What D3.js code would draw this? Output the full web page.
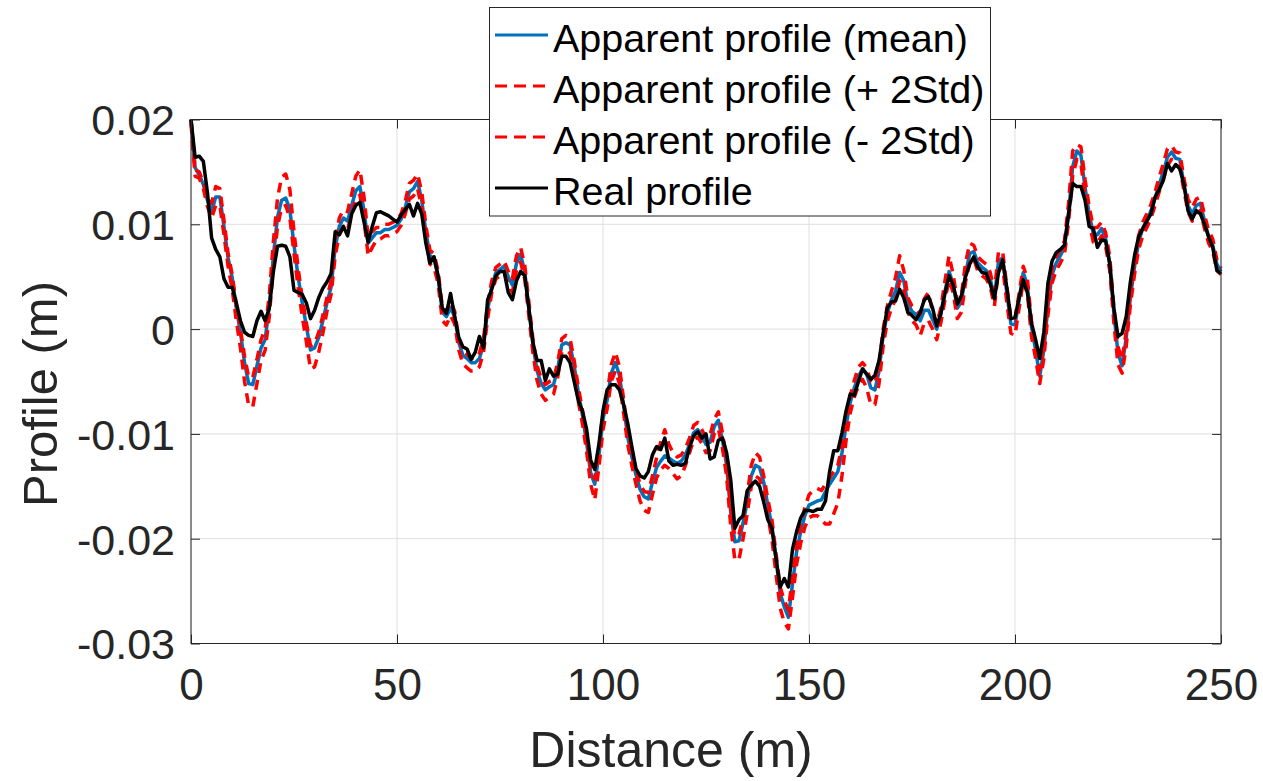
<!DOCTYPE html>
<html>
<head>
<meta charset="utf-8">
<script src="https://cdn.jsdelivr.net/npm/d3@7"></script>
<style>
html,body{margin:0;padding:0;background:#fff;}
svg{display:block;}
</style>
</head>
<body>
<svg id="chart" width="1263" height="781"></svg>
<script>
// Distance samples (m)
const distance = d3.range(0, 251, 1);

// Profiles in millimetres (converted to metres when drawn)
const realProfile = [
 20.0,16.4,16.5,16.0,13.0,8.7,7.6,6.9,4.8,4.0,
 4.0,2.5,0.8,-0.3,-0.6,-0.7,0.8,1.7,0.8,2.0,
 5.5,7.9,8.0,7.9,6.9,3.7,3.5,3.3,2.5,1.0,
 1.8,3.0,3.9,4.5,5.3,9.3,9.0,9.8,8.9,11.0,
 11.8,12.1,10.2,8.3,9.8,11.1,11.2,11.0,10.8,10.5,
 10.2,10.9,11.4,11.9,10.8,12.0,11.0,8.2,6.3,6.9,
 5.0,2.0,1.5,3.4,1.2,-0.8,-1.7,-1.9,-2.9,-2.2,
 -0.7,-1.8,2.8,3.8,5.1,5.5,5.5,3.5,2.8,4.6,
 5.5,5.1,2.0,-1.3,-3.0,-3.0,-4.9,-3.8,-4.5,-4.3,
 -2.6,-2.6,-3.2,-5.0,-6.8,-7.8,-9.5,-12.5,-13.4,-11.0,
 -7.8,-5.8,-5.3,-5.3,-5.8,-7.2,-9.0,-11.2,-13.3,-14.0,
 -14.2,-13.6,-12.0,-11.2,-11.5,-10.4,-12.6,-13.0,-12.9,-13.0,
 -12.8,-11.3,-10.2,-9.8,-10.4,-10.0,-12.4,-12.2,-10.6,-10.4,
 -11.8,-14.4,-19.0,-18.2,-17.8,-15.4,-14.9,-14.5,-15.0,-16.5,
 -18.2,-19.0,-21.9,-24.6,-23.8,-24.6,-21.0,-19.3,-18.0,-17.3,
 -17.3,-17.4,-17.2,-17.2,-16.4,-13.6,-11.6,-11.6,-9.9,-7.8,
 -6.2,-6.3,-5.0,-3.8,-4.3,-4.8,-4.4,-3.0,-0.4,2.0,
 2.6,2.7,3.8,3.0,1.6,1.3,0.9,1.6,2.8,3.1,
 2.0,0.3,1.5,3.4,5.1,4.2,2.4,3.2,5.0,6.2,
 6.9,5.9,5.4,5.3,4.3,2.9,5.4,6.6,4.0,1.0,
 1.1,3.0,4.7,3.5,0.6,-1.0,-2.8,-0.3,4.4,6.5,
 7.3,7.6,8.0,11.0,13.9,13.6,13.6,12.3,9.8,9.6,
 7.8,8.5,8.4,6.2,2.0,-0.7,-0.4,1.2,4.5,7.0,
 8.8,9.6,10.3,11.0,12.6,13.3,14.2,15.8,15.1,15.7,
 15.3,13.8,11.3,10.5,11.3,11.0,10.0,8.8,7.8,5.6,
 5.3
];

const meanProfile = [
 20.0,15.4,14.7,13.8,12.3,11.2,12.6,12.6,9.8,6.8,
 4.9,2.0,-0.3,-3.2,-5.2,-5.3,-3.5,-1.8,-1.0,2.2,
 7.0,10.7,12.3,12.5,11.4,8.0,5.0,2.5,0.3,-2.0,
 -1.8,-0.8,0.8,2.5,4.0,7.8,9.8,10.6,10.3,11.8,
 13.2,13.6,11.3,8.2,8.7,9.2,9.2,9.5,9.5,9.7,
 9.9,10.5,11.6,13.1,13.4,14.1,12.3,9.3,7.0,6.7,
 5.0,1.6,1.2,2.0,1.2,-1.3,-2.5,-2.8,-3.2,-3.2,
 -2.8,-1.5,1.8,4.1,5.4,5.7,6.0,5.0,4.2,6.3,
 7.1,5.5,2.0,-1.5,-4.0,-5.2,-5.8,-5.5,-5.3,-3.8,
 -1.5,-1.3,-1.5,-3.5,-6.0,-8.2,-10.8,-13.7,-14.8,-12.0,
 -8.6,-6.8,-4.2,-3.2,-4.4,-7.3,-10.3,-12.2,-13.9,-15.3,
 -16.0,-16.2,-14.6,-13.2,-12.6,-12.1,-12.3,-12.6,-12.8,-12.6,
 -12.0,-11.0,-9.9,-9.6,-10.2,-11.0,-10.8,-9.3,-8.7,-10.6,
 -13.0,-17.5,-20.3,-20.2,-18.5,-16.5,-14.0,-13.0,-13.2,-14.6,
 -16.8,-18.8,-22.0,-25.2,-26.5,-27.5,-24.3,-21.2,-19.3,-17.8,
 -16.8,-16.6,-16.4,-16.3,-15.5,-14.8,-14.2,-13.6,-11.8,-9.2,
 -7.0,-5.6,-4.5,-3.8,-4.3,-5.6,-5.8,-4.0,-0.6,1.5,
 2.8,3.6,5.4,4.6,2.4,1.7,1.4,0.8,1.8,1.8,
 0.9,0.0,1.4,3.6,5.5,4.3,2.0,2.6,5.3,7.2,
 7.4,6.3,5.9,5.6,4.8,3.0,6.5,6.8,3.5,0.5,
 0.4,2.8,5.4,4.2,0.2,-2.0,-4.5,-2.0,2.2,5.2,
 6.3,7.0,7.8,11.0,15.5,17.0,16.6,13.5,11.0,9.1,
 9.0,9.6,8.6,6.3,1.5,-2.3,-3.5,-0.8,3.0,5.9,
 8.3,9.6,10.4,11.3,12.5,13.8,15.0,16.4,16.9,16.3,
 16.2,13.8,11.8,11.0,11.8,12.0,10.3,8.8,8.0,6.2,
 5.5
];

const plus2Std = [
 20.0,15.2,15.0,14.0,12.8,12.0,13.6,13.4,10.4,7.2,
 5.2,2.3,0.0,-2.6,-4.6,-4.6,-2.9,-1.0,0.0,3.2,
 8.4,12.5,14.5,14.8,13.3,9.3,5.8,3.0,0.6,-1.6,
 -1.4,-0.3,1.3,3.0,4.6,8.6,10.6,11.4,11.2,12.9,
 14.6,15.2,12.6,8.8,9.3,9.7,9.7,10.0,10.0,10.2,
 10.4,11.0,12.2,13.9,14.2,14.8,13.1,9.9,7.5,7.2,
 5.5,2.1,1.7,2.6,1.7,-0.9,-2.1,-2.4,-2.8,-2.8,
 -2.3,-0.9,2.4,4.6,5.9,6.2,6.5,5.5,4.8,7.0,
 7.8,6.1,2.6,-1.0,-3.5,-4.7,-5.3,-5.0,-4.8,-3.2,
 -0.9,-0.6,-0.9,-3.0,-5.5,-7.7,-10.3,-13.2,-14.3,-11.4,
 -8.0,-6.2,-3.4,-2.2,-3.6,-6.7,-9.7,-11.7,-13.4,-14.8,
 -15.5,-15.6,-14.0,-12.3,-10.8,-9.6,-11.0,-11.8,-12.2,-12.0,
 -11.4,-10.4,-9.2,-8.9,-9.6,-10.4,-10.1,-8.6,-7.9,-9.9,
 -12.4,-17.0,-19.8,-19.6,-18.0,-15.8,-13.0,-11.8,-12.2,-14.0,
 -16.2,-18.2,-21.4,-24.6,-25.9,-26.8,-23.6,-20.6,-18.7,-17.0,
 -15.8,-15.4,-15.2,-15.4,-14.8,-14.2,-13.6,-13.0,-11.2,-8.6,
 -6.4,-4.9,-3.6,-3.2,-3.7,-5.0,-5.2,-3.4,0.0,2.2,
 3.6,4.9,7.0,5.6,3.0,2.2,1.9,1.4,2.9,3.5,
 1.6,0.5,2.0,4.6,7.0,5.2,2.6,3.3,6.3,8.2,
 8.0,6.9,6.5,6.2,5.4,3.6,7.4,7.4,4.1,1.1,
 1.0,3.4,6.0,4.8,0.8,-1.5,-3.9,-1.4,2.8,5.8,
 6.9,7.6,8.4,12.0,17.0,17.6,17.4,14.3,11.7,9.7,
 9.7,10.2,9.2,6.9,2.1,-1.7,-2.9,-0.2,3.6,6.5,
 8.9,10.2,11.0,11.9,13.1,14.5,15.8,17.2,17.5,16.9,
 16.8,14.4,12.4,11.6,12.4,12.6,10.9,9.4,8.6,6.6,
 5.8
];

const minus2Std = [
 19.6,14.6,14.4,13.4,11.7,10.6,11.8,11.8,9.0,6.0,
 3.8,0.8,-1.8,-5.0,-7.3,-7.4,-5.2,-3.0,-2.0,1.2,
 6.0,9.8,11.6,11.8,10.6,7.2,4.0,1.2,-1.2,-3.8,
 -3.6,-2.2,-0.4,1.7,3.3,7.0,9.0,9.8,9.5,11.0,
 12.4,12.8,10.4,7.0,7.8,8.5,8.6,8.9,8.9,9.1,
 9.3,9.9,11.0,12.4,12.7,13.4,11.6,8.6,6.2,5.9,
 4.3,0.8,0.4,1.3,0.5,-2.0,-3.3,-3.7,-4.0,-4.0,
 -3.6,-2.2,1.0,3.5,4.8,5.1,5.4,4.3,3.5,5.6,
 6.4,4.8,1.3,-2.3,-4.9,-6.2,-6.8,-6.5,-6.2,-4.6,
 -2.2,-2.0,-2.3,-4.3,-6.9,-9.0,-11.6,-14.8,-16.3,-13.2,
 -9.6,-7.6,-5.0,-4.0,-5.2,-8.0,-11.0,-13.0,-14.8,-16.4,
 -17.3,-17.5,-15.8,-14.2,-13.4,-13.0,-13.3,-13.8,-14.3,-14.0,
 -13.0,-11.8,-10.6,-10.3,-10.9,-11.8,-11.6,-10.0,-9.5,-11.4,
 -14.0,-18.8,-22.0,-22.0,-20.0,-17.6,-15.0,-14.0,-14.3,-15.6,
 -17.9,-20.0,-23.4,-26.6,-28.0,-28.6,-25.6,-22.4,-20.4,-18.9,
 -18.0,-17.8,-17.8,-18.2,-18.6,-18.6,-17.6,-16.6,-14.0,-10.6,
 -8.0,-6.5,-5.4,-4.8,-5.6,-7.2,-7.2,-5.2,-1.6,0.7,
 2.0,2.8,4.6,3.8,1.6,0.8,0.4,-0.6,0.6,0.8,
 0.0,-1.0,0.6,2.8,4.7,3.5,1.0,1.6,4.5,6.4,
 6.7,5.5,5.1,4.8,4.0,2.2,5.6,6.0,2.6,-0.4,
 -0.6,2.0,4.6,3.4,-0.7,-2.8,-5.2,-2.8,1.4,4.4,
 5.6,6.3,7.1,10.2,14.6,16.2,15.8,12.7,10.2,8.3,
 8.2,8.9,7.9,5.6,0.6,-3.4,-4.2,-1.6,2.3,5.2,
 7.6,8.9,9.7,10.6,11.8,13.1,14.3,15.6,16.2,15.6,
 15.5,13.2,11.2,10.3,11.1,11.3,9.6,8.2,7.4,5.6,
 5.2
];

const seriesNames = [
  "Apparent profile (mean)",
  "Apparent profile (+ 2Std)",
  "Apparent profile (- 2Std)",
  "Real profile"
];
const xTicks = [0, 50, 100, 150, 200, 250];
const yTicks = [-0.03, -0.02, -0.01, 0, 0.01, 0.02];
const xLabel = "Distance (m)";
const yLabel = "Profile (m)";

// ---- drawing ----
const FONT = '"Liberation Sans", Arial, Helvetica, sans-serif';
const AX = '#262626';
const L = 191, R = 1221, T = 119.5, B = 643.5;
const x = d3.scaleLinear().domain([0, 250]).range([L, R]);
const y = d3.scaleLinear().domain([-0.03, 0.02]).range([B, T]);

const svg = d3.select('#chart').style('font-family', FONT);
svg.append('rect').attr('width', 1263).attr('height', 781).attr('fill', '#fff');

// grid
const grid = svg.append('g').attr('stroke', '#dfdfdf').attr('stroke-width', 1);
grid.selectAll('.gx').data(xTicks).join('line')
  .attr('x1', d => x(d)).attr('x2', d => x(d)).attr('y1', T).attr('y2', B);
grid.selectAll('.gy').data(yTicks).join('line')
  .attr('y1', d => y(d)).attr('y2', d => y(d)).attr('x1', L).attr('x2', R);

// series
const line = d3.line()
  .x((d, i) => x(distance[i]))
  .y(d => y(d / 1000));

const series = [
  {name: seriesNames[0], data: meanProfile, color: '#0072BD', dash: null, w: 3.5},
  {name: seriesNames[1], data: plus2Std, color: '#FF0000', dash: '10,7', w: 3.5},
  {name: seriesNames[2], data: minus2Std, color: '#FF0000', dash: '10,7', w: 3.5},
  {name: seriesNames[3], data: realProfile, color: '#000000', dash: null, w: 3.5}
];

svg.append('g').selectAll('path').data(series).join('path')
  .attr('d', s => line(s.data))
  .attr('fill', 'none')
  .attr('stroke', s => s.color)
  .attr('stroke-width', s => s.w)
  .attr('stroke-linejoin', 'round')
  .attr('stroke-dasharray', s => s.dash);

// axes
const fmtY = d => (Math.abs(d) < 1e-12 ? '0' : d.toFixed(2));
const gx = svg.append('g').attr('transform', `translate(0,${B})`)
  .call(d3.axisBottom(x).tickValues(xTicks).tickSizeInner(-9).tickSizeOuter(0)
    .tickPadding(25).tickFormat(d3.format('d')));
const gy = svg.append('g').attr('transform', `translate(${L},0)`)
  .call(d3.axisLeft(y).tickValues(yTicks).tickSizeInner(-9).tickSizeOuter(0)
    .tickPadding(16).tickFormat(fmtY));
const gt = svg.append('g').attr('transform', `translate(0,${T})`)
  .call(d3.axisTop(x).tickValues(xTicks).tickSizeInner(-9).tickSizeOuter(0).tickFormat(''));
const gr = svg.append('g').attr('transform', `translate(${R},0)`)
  .call(d3.axisRight(y).tickValues(yTicks).tickSizeInner(-9).tickSizeOuter(0).tickFormat(''));

[gx, gy, gt, gr].forEach(g => {
  g.select('.domain').remove();
  g.selectAll('line').attr('stroke', AX).attr('stroke-width', 1);
  g.attr('font-family', FONT);
});
gx.attr('font-size', 44);
gx.selectAll('text').attr('fill', AX);
gy.attr('font-size', 43);
gy.selectAll('text').attr('fill', AX).attr('dy', '0.36em');

// frame
svg.append('rect').attr('x', L).attr('y', T).attr('width', R - L).attr('height', B - T)
  .attr('fill', 'none').attr('stroke', AX).attr('stroke-width', 1);

// axis labels
svg.append('text').attr('x', 671).attr('y', 767).attr('text-anchor', 'middle')
  .attr('font-size', 50).attr('fill', AX).text(xLabel);
svg.append('text').attr('transform', 'translate(57,394) rotate(-90)')
  .attr('text-anchor', 'middle').attr('font-size', 49).attr('fill', AX).text(yLabel);

// legend
const lg = svg.append('g');
lg.append('rect').attr('x', 489.5).attr('y', 7.5).attr('width', 501).attr('height', 208.5)
  .attr('fill', '#fff').attr('stroke', AX).attr('stroke-width', 1);
const rowBase = [52, 103, 154, 205];
const items = lg.selectAll('g.item').data(series).join('g').attr('class', 'item');
items.append('line')
  .attr('x1', 495).attr('x2', 548)
  .attr('y1', (s, i) => rowBase[i] - 17).attr('y2', (s, i) => rowBase[i] - 17)
  .attr('stroke', s => s.color).attr('stroke-width', 3)
  .attr('stroke-dasharray', s => s.dash ? '12,7' : null);
items.append('text')
  .attr('x', 553).attr('y', (s, i) => rowBase[i])
  .attr('font-size', 39.5).attr('fill', '#000')
  .text(s => s.name);
</script>
</body>
</html>
